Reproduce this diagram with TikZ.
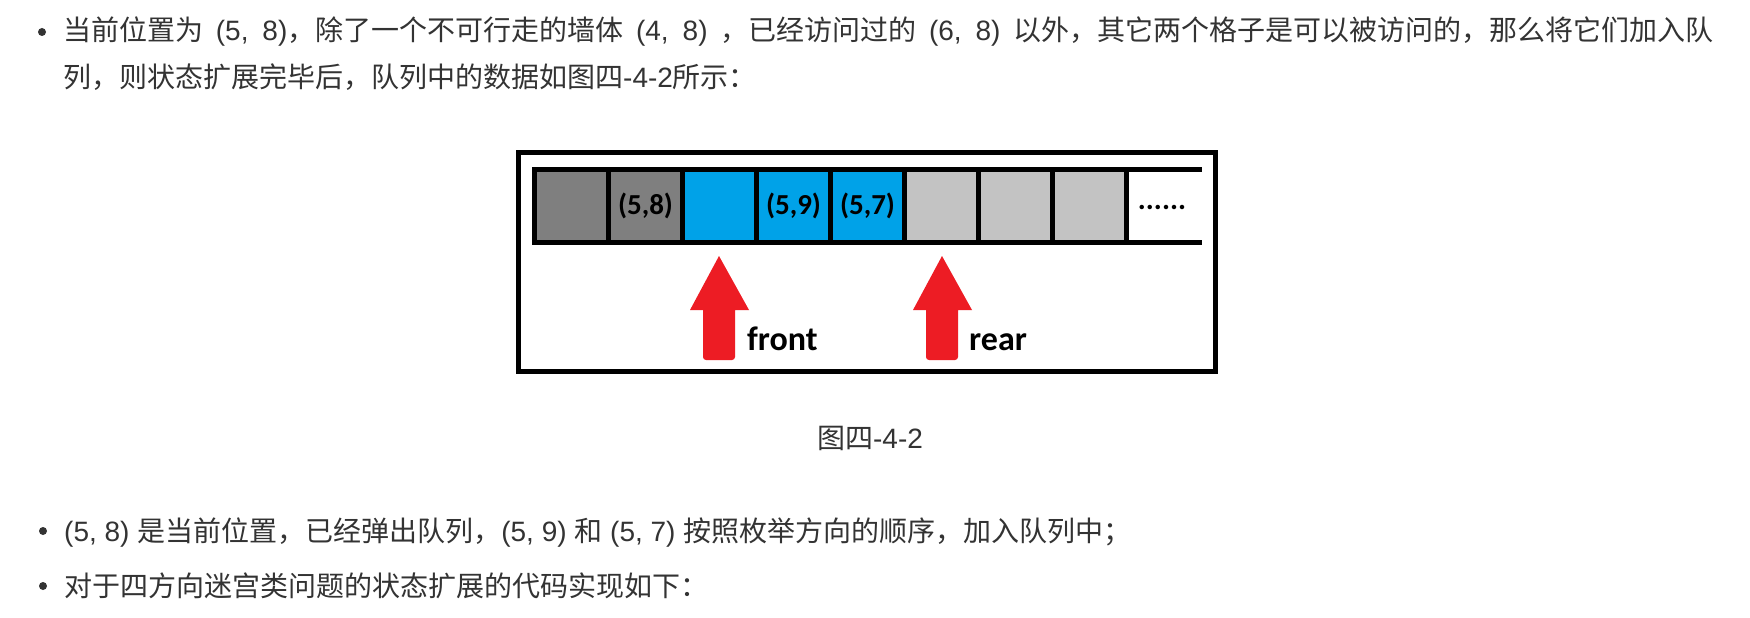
\documentclass[tikz,border=0pt]{standalone}
\usepackage{fontspec}
\newfontfamily\cjkfont{Noto Sans CJK SC}
\newfontfamily\latfont{Liberation Sans}
\newfontfamily\califont{Carlito}
\newcommand{\lat}[1]{{\latfont #1}}
\XeTeXinterchartoks 1 1 = {\hskip 0pt plus 1pt\relax}
\XeTeXinterchartoks 1 3 = {\hskip 0pt plus 1pt\relax}
\XeTeXinterchartoks 3 1 = {\hskip 0pt plus 1pt\relax}
\definecolor{txt}{HTML}{333333}
\definecolor{dgray}{HTML}{7F7F7F}
\definecolor{lgray}{HTML}{C3C3C3}
\definecolor{qblue}{HTML}{00A2E8}
\definecolor{qred}{HTML}{ED1C24}
\begin{document}
\begin{tikzpicture}[x=1pt,y=-1pt,
  body/.style={anchor=base west, inner sep=0pt, text=txt, font=\cjkfont\fontsize{28}{34}\selectfont},
  cell/.style={draw=black, line width=4.5pt, minimum width=74pt, minimum height=73pt, inner sep=0pt, font=\califont\bfseries\fontsize{29}{34}\selectfont},
  ptr/.style={anchor=base west, inner sep=0pt, font=\califont\bfseries\fontsize{34}{40}\selectfont},
  bul/.style={circle, fill=txt, minimum size=8pt, inner sep=0pt},
  uparrow/.style={fill=qred}]
\fill[white] (0,0) rectangle (1750,618);
\useasboundingbox (0,0) rectangle (1750,618);
% bullet 1
\node[bul] (b1) at (42,32) {};
\node[body] (t1) at (63,41) {\XeTeXinterchartokenstate=1 \makebox[1650pt][s]{当前位置为\lat{ (5, 8)}，除了一个不可行走的墙体\lat{ (4, 8) }，已经访问过的\lat{ (6, 8) }以外，其它两个格子是可以被访问的，那么将它们加入队}};
\node[body] (t2) at (63,88) {列，则状态扩展完毕后，队列中的数据如图四\lat{-4-2}所示：};
% figure frame
\draw[line width=5pt] (518.5,152.5) rectangle (1215.5,371.5);
% queue cells
\node[cell, fill=dgray] (c0) at (571.5,206) {};
\node[cell, fill=dgray] (c1) at (645.5,206) {(5,8)};
\node[cell, fill=qblue] (c2) at (719.5,206) {};
\node[cell, fill=qblue] (c3) at (793.5,206) {(5,9)};
\node[cell, fill=qblue] (c4) at (867.5,206) {(5,7)};
\node[cell, fill=lgray] (c5) at (941.5,206) {};
\node[cell, fill=lgray] (c6) at (1015.5,206) {};
\node[cell, fill=lgray] (c7) at (1089.5,206) {};
\node[inner sep=0pt, font=\califont\bfseries\fontsize{30}{34}\selectfont] (dots) at (1162,207) {......};
\draw[line width=5pt] (532,169.5) -- (1202,169.5);
\draw[line width=5pt] (532,242.5) -- (1202,242.5);
% arrows
\foreach \cx in {719,942}{
  \fill[uparrow] (\cx,256) -- (\cx+30,310) -- (\cx+16,310) [rounded corners=3pt] -- (\cx+16,360) -- (\cx-16,360) [sharp corners] -- (\cx-16,310) -- (\cx-29,310) -- cycle;
}
\node[ptr] (front) at (747,350) {front};
\node[ptr] (rear) at (969,350) {rear};
% caption
\node[body, anchor=base] (cap) at (870,448) {图四\lat{-4-2}};
% bullet 2
\node[bul] (b2) at (43,531) {};
\node[body] (t3) at (64,541) {\lat{(5, 8) }是当前位置，已经弹出队列，\lat{(5, 9) }和\lat{ (5, 7) }按照枚举方向的顺序，加入队列中；};
% bullet 3
\node[bul] (b3) at (43,586) {};
\node[body] (t4) at (64,596) {对于四方向迷宫类问题的状态扩展的代码实现如下：};
\end{tikzpicture}
\end{document}
